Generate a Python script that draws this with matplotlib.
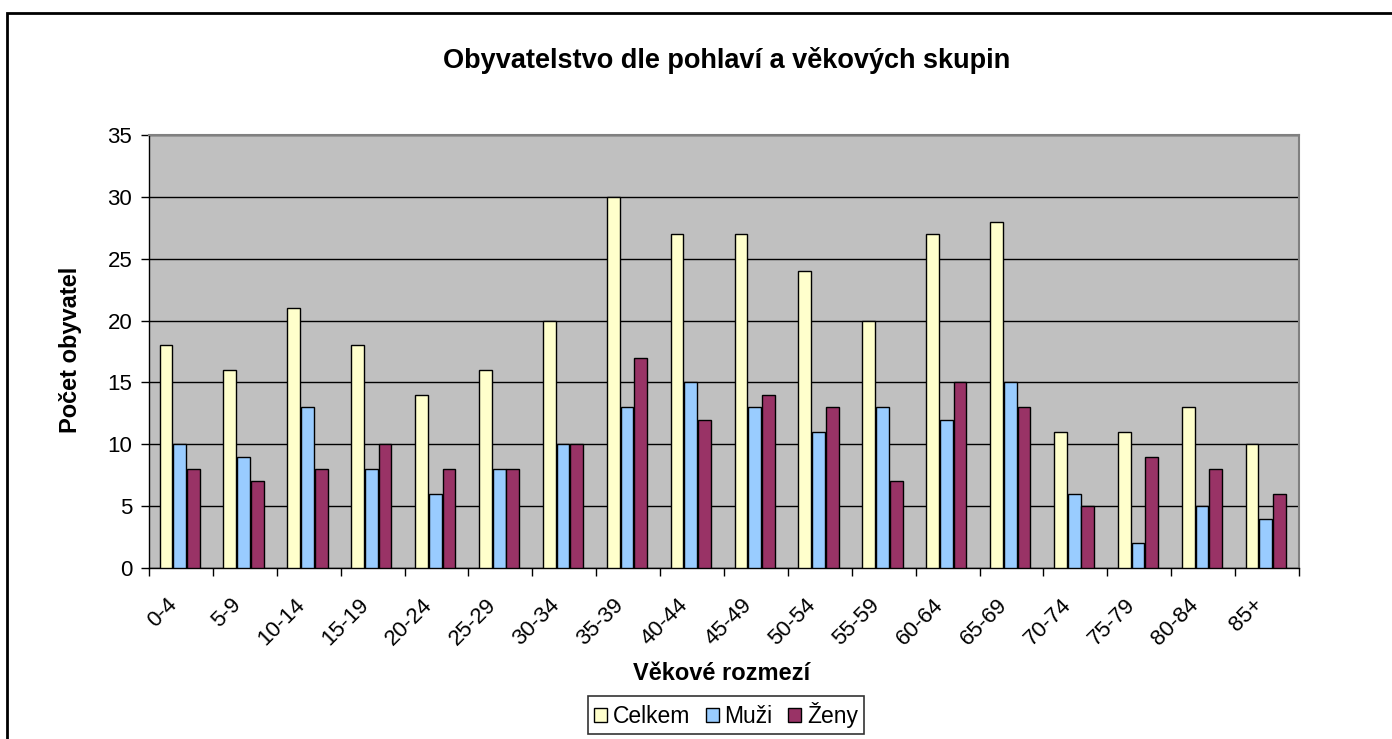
import matplotlib

matplotlib.use("Agg")
import matplotlib.pyplot as plt
from matplotlib.patches import Rectangle
import numpy as np

plt.rcParams["font.family"] = ["Liberation Sans", "DejaVu Sans"]

categories = ["0-4", "5-9", "10-14", "15-19", "20-24", "25-29", "30-34", "35-39", "40-44",
              "45-49", "50-54", "55-59", "60-64", "65-69", "70-74", "75-79", "80-84", "85+"]
celkem = [18, 16, 21, 18, 14, 16, 20, 30, 27, 27, 24, 20, 27, 28, 11, 11, 13, 10]
muzi = [10, 9, 13, 8, 6, 8, 10, 13, 15, 13, 11, 13, 12, 15, 6, 2, 5, 4]
zeny = [8, 7, 8, 10, 8, 8, 10, 17, 12, 14, 13, 7, 15, 13, 5, 9, 8, 6]

fig = plt.figure(figsize=(13.92, 7.39), dpi=100)
ax = fig.add_axes([149 / 1392, 1 - 568 / 739, 1150 / 1392, 433 / 739])

# outer frame (runs off the right/bottom edge like the source screenshot)
fig.patches.append(Rectangle((7 / 1392, -0.1), 1.1, 1.1 - 13 / 739, transform=fig.transFigure,
                             fill=False, edgecolor="black", linewidth=2, zorder=0))

x = np.arange(len(categories))
w = 0.2
step = 0.215
ax.bar(x - step - 0.02, celkem, w, color="#FFFFCC", edgecolor="black", linewidth=1, label="Celkem", zorder=3)
ax.bar(x - 0.02, muzi, w, color="#99CCFF", edgecolor="black", linewidth=1, label="Muži", zorder=3)
ax.bar(x + step - 0.02, zeny, w, color="#993366", edgecolor="black", linewidth=1, label="Ženy", zorder=3)

ax.set_facecolor("#C0C0C0")
ax.set_xlim(-0.5, len(categories) - 0.5)
ax.set_ylim(0, 35)
ax.set_yticks(range(0, 36, 5))
ax.yaxis.grid(True, color="black", linewidth=1, zorder=1)
ax.set_axisbelow(True)

# category labels at group centres, tick marks at group boundaries (Excel style)
ax.set_xticks(x)
ax.set_xticklabels(categories, rotation=45, ha="right", va="top", fontsize=16)
ax.set_xticks(np.arange(-0.5, len(categories)), minor=True)
ax.tick_params(axis="x", which="major", length=0, pad=19)
ax.tick_params(axis="x", which="minor", length=6, width=1, direction="out")
ax.tick_params(axis="y", length=6, width=1, labelsize=16, pad=6)

for s in ["left", "bottom"]:
    ax.spines[s].set_color("black")
    ax.spines[s].set_linewidth(1)
for s in ["top", "right"]:
    ax.spines[s].set_color("#808080")
    ax.spines[s].set_linewidth(1.5)

fig.text(727 / 1392, 1 - 60 / 739, "Obyvatelstvo dle pohlaví a věkových skupin", ha="center", va="center",
         fontsize=19.5, fontweight="bold")
fig.text(70 / 1392, 1 - 350 / 739, "Počet obyvatel", ha="center", va="center", rotation=90,
         fontsize=17, fontweight="bold")
fig.text(722 / 1392, 1 - 673 / 739, "Věkové rozmezí", ha="center", va="center", fontsize=17, fontweight="bold")

leg = fig.legend(loc="center", bbox_to_anchor=(726 / 1392, 1 - 715 / 739), ncol=3, fontsize=16.5,
                 frameon=True, fancybox=False, edgecolor="black", handlelength=0.55, handleheight=0.55,
                 handletextpad=0.25, columnspacing=0.7, borderpad=0.25, borderaxespad=0)
leg.get_frame().set_linewidth(1.2)

fig.savefig("out.png", dpi=100)
